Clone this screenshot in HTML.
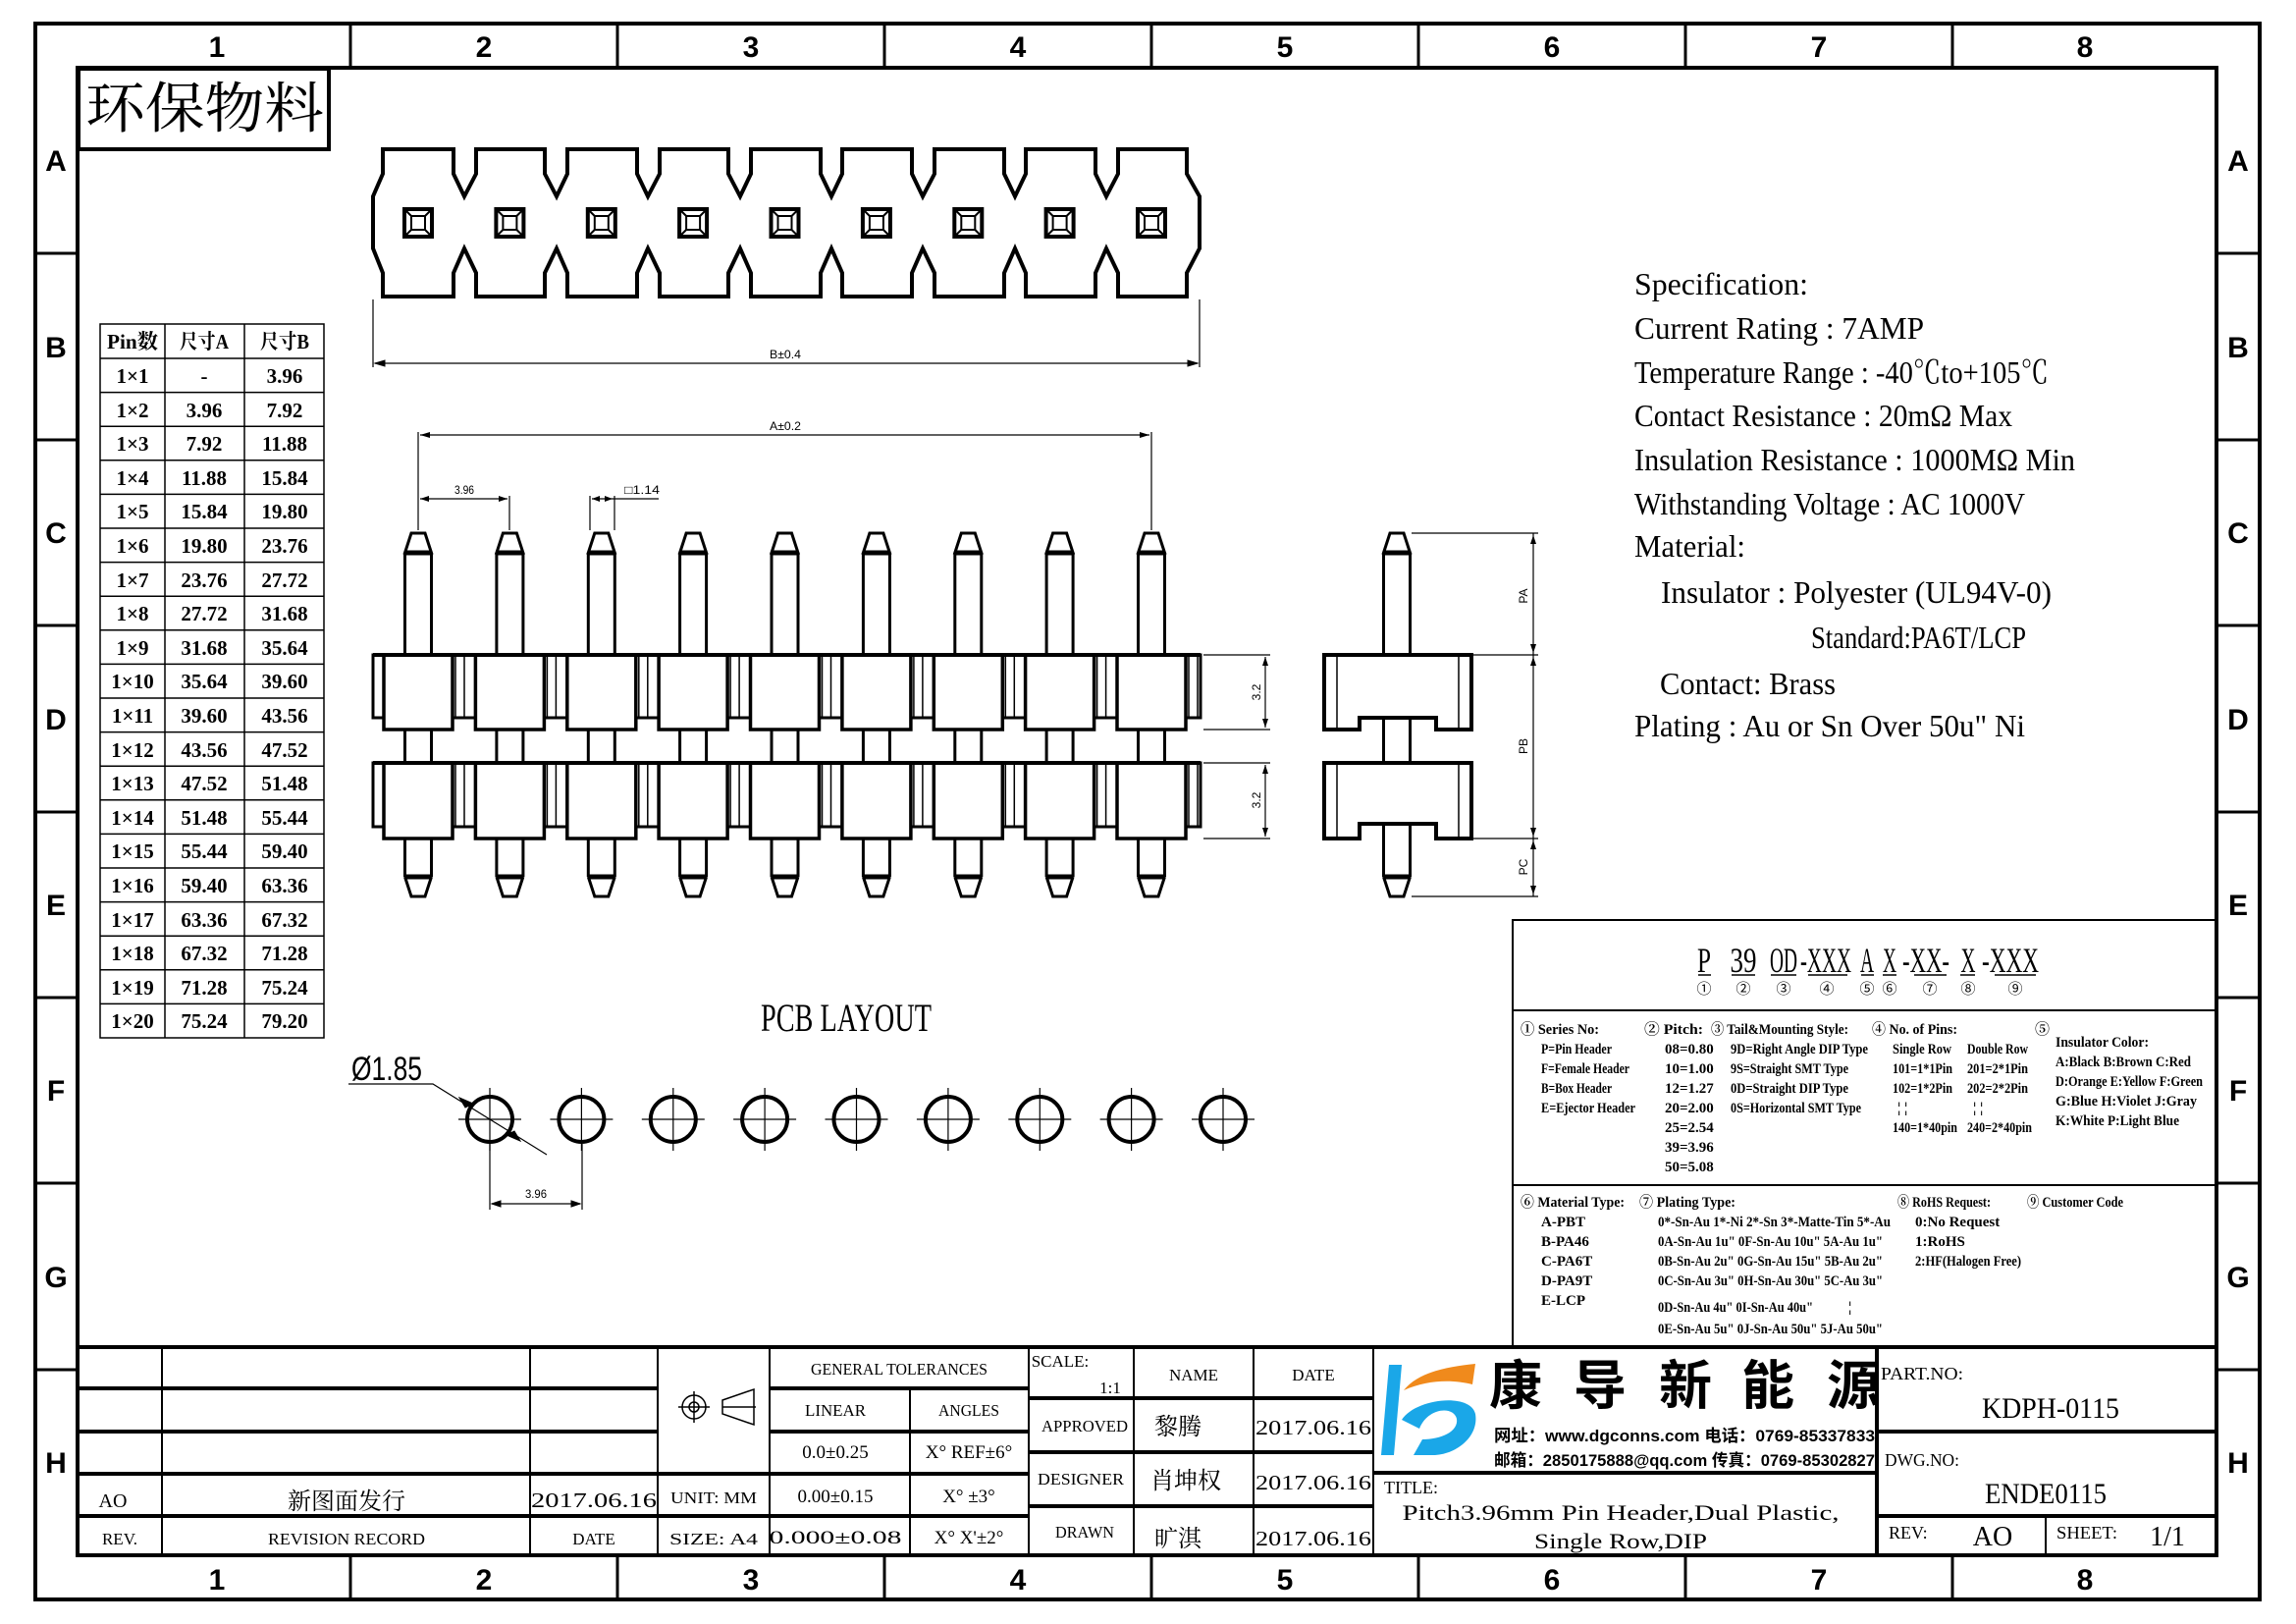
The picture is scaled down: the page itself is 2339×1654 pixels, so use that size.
<!DOCTYPE html>
<html><head><meta charset="utf-8"><style>
html,body{margin:0;padding:0;background:#fff}
svg{display:block}
text{font-family:"Liberation Sans","Noto Sans CJK SC",sans-serif;fill:#000}
.s text, text.s{font-family:"Liberation Serif","Noto Serif CJK SC",serif}
</style></head><body>
<svg width="2339" height="1654" viewBox="0 0 2339 1654" xmlns="http://www.w3.org/2000/svg">
<rect width="2339" height="1654" fill="#fff"/>
<g fill="none" stroke="#000">
<rect x="36" y="24" width="2266" height="1605" stroke-width="4"/>
<rect x="79" y="69" width="2179" height="1515" stroke-width="4"/>
<g stroke-width="3">
<path d="M357 24V69M629 24V69M901 24V69M1173 24V69M1445 24V69M1717 24V69M1989 24V69"/>
<path d="M357 1584V1629M629 1584V1629M901 1584V1629M1173 1584V1629M1445 1584V1629M1717 1584V1629M1989 1584V1629"/>
<path d="M36 258H79M36 448H79M36 637H79M36 827H79M36 1016H79M36 1205H79M36 1395H79"/>
<path d="M2258 258H2302M2258 448H2302M2258 637H2302M2258 827H2302M2258 1016H2302M2258 1205H2302M2258 1395H2302"/>
</g>
</g>
<g font-size="30" font-weight="bold" text-anchor="middle">
<text x="221" y="58">1</text><text x="493" y="58">2</text><text x="765" y="58">3</text><text x="1037" y="58">4</text><text x="1309" y="58">5</text><text x="1581" y="58">6</text><text x="1853" y="58">7</text><text x="2124" y="58">8</text>
<text x="221" y="1619">1</text><text x="493" y="1619">2</text><text x="765" y="1619">3</text><text x="1037" y="1619">4</text><text x="1309" y="1619">5</text><text x="1581" y="1619">6</text><text x="1853" y="1619">7</text><text x="2124" y="1619">8</text>
<text x="57" y="174">A</text><text x="57" y="364">B</text><text x="57" y="553">C</text><text x="57" y="743">D</text><text x="57" y="932">E</text><text x="57" y="1121">F</text><text x="57" y="1311">G</text><text x="57" y="1500">H</text>
<text x="2280" y="174">A</text><text x="2280" y="364">B</text><text x="2280" y="553">C</text><text x="2280" y="743">D</text><text x="2280" y="932">E</text><text x="2280" y="1121">F</text><text x="2280" y="1311">G</text><text x="2280" y="1500">H</text>
</g>
<rect x="80" y="70" width="255" height="82" fill="none" stroke="#000" stroke-width="4"/>
<text x="87" y="130" font-size="56" textLength="243" lengthAdjust="spacingAndGlyphs" class="s">环保物料</text>

<g fill="none" stroke="#000" stroke-width="4">
<path d="M390 152V177L380 200V253L390 278V302H462V278L473 253L485 278V302H555V278L567 253L578 278V302H649V278L660 253L672 278V302H742V278L754 253L765 278V302H836V278L847 253L858 278V302H929V278L940 253L952 278V302H1023V278L1034 253L1045 278V302H1116V278L1127 253L1139 278V302H1209V278L1222 253V200L1209 177V152H1139V177L1127 200L1116 177V152H1045V177L1034 200L1023 177V152H952V177L940 200L929 177V152H858V177L847 200L836 177V152H765V177L754 200L742 177V152H672V177L660 200L649 177V152H578V177L567 200L555 177V152H485V177L473 200L462 177V152Z"/>
</g>
<g fill="none" stroke="#000">
<g id="sq"><rect x="412" y="213" width="28" height="28" stroke-width="4"/><rect x="419" y="220" width="14" height="14" stroke-width="2"/><path d="M412 213L419 220M440 213L433 220M412 241L419 234M440 241L433 234" stroke-width="2"/></g>
<use href="#sq" x="93.4"/><use href="#sq" x="186.8"/><use href="#sq" x="280.1"/><use href="#sq" x="373.5"/><use href="#sq" x="466.9"/><use href="#sq" x="560.3"/><use href="#sq" x="653.6"/><use href="#sq" x="747"/>
<path d="M380 305V374M1222 305V374M382 370H1220" stroke-width="1.2"/>
<path d="M382 370l10 -3v6zM1220 370l-10 -3v6z" fill="#000"/>
</g>
<text x="800" y="365" font-size="12" text-anchor="middle" textLength="32" lengthAdjust="spacingAndGlyphs">B±0.4</text>

<g fill="none" stroke="#000" stroke-width="1.5">
<rect x="102" y="330" width="228" height="727"/>
<path d="M168 330V1057M249 330V1057"/>
<path d="M102 365H330M102 399.6H330M102 434.2H330M102 468.8H330M102 503.4H330M102 538H330M102 572.6H330M102 607.2H330M102 641.8H330M102 676.4H330M102 711H330M102 745.6H330M102 780.2H330M102 814.8H330M102 849.4H330M102 884H330M102 918.6H330M102 953.2H330M102 987.8H330M102 1022.4H330"/>
</g>
<g font-size="21" text-anchor="middle" font-weight="bold" class="s">
<text x="135" y="355" textLength="52" lengthAdjust="spacingAndGlyphs">Pin数</text><text x="208" y="355" textLength="50" lengthAdjust="spacingAndGlyphs">尺寸A</text><text x="290" y="355" textLength="50" lengthAdjust="spacingAndGlyphs">尺寸B</text>
<text x="135" y="390">1×1</text><text x="208" y="390">-</text><text x="290" y="390">3.96</text>
<text x="135" y="425">1×2</text><text x="208" y="425">3.96</text><text x="290" y="425">7.92</text>
<text x="135" y="459">1×3</text><text x="208" y="459">7.92</text><text x="290" y="459">11.88</text>
<text x="135" y="494">1×4</text><text x="208" y="494">11.88</text><text x="290" y="494">15.84</text>
<text x="135" y="528">1×5</text><text x="208" y="528">15.84</text><text x="290" y="528">19.80</text>
<text x="135" y="563">1×6</text><text x="208" y="563">19.80</text><text x="290" y="563">23.76</text>
<text x="135" y="598">1×7</text><text x="208" y="598">23.76</text><text x="290" y="598">27.72</text>
<text x="135" y="632">1×8</text><text x="208" y="632">27.72</text><text x="290" y="632">31.68</text>
<text x="135" y="667">1×9</text><text x="208" y="667">31.68</text><text x="290" y="667">35.64</text>
<text x="135" y="701">1×10</text><text x="208" y="701">35.64</text><text x="290" y="701">39.60</text>
<text x="135" y="736">1×11</text><text x="208" y="736">39.60</text><text x="290" y="736">43.56</text>
<text x="135" y="771">1×12</text><text x="208" y="771">43.56</text><text x="290" y="771">47.52</text>
<text x="135" y="805">1×13</text><text x="208" y="805">47.52</text><text x="290" y="805">51.48</text>
<text x="135" y="840">1×14</text><text x="208" y="840">51.48</text><text x="290" y="840">55.44</text>
<text x="135" y="874">1×15</text><text x="208" y="874">55.44</text><text x="290" y="874">59.40</text>
<text x="135" y="909">1×16</text><text x="208" y="909">59.40</text><text x="290" y="909">63.36</text>
<text x="135" y="944">1×17</text><text x="208" y="944">63.36</text><text x="290" y="944">67.32</text>
<text x="135" y="978">1×18</text><text x="208" y="978">67.32</text><text x="290" y="978">71.28</text>
<text x="135" y="1013">1×19</text><text x="208" y="1013">71.28</text><text x="290" y="1013">75.24</text>
<text x="135" y="1047">1×20</text><text x="208" y="1047">75.24</text><text x="290" y="1047">79.20</text>
</g>

<g fill="none" stroke="#000">
<rect x="380" y="667" width="843" height="64" stroke-width="3"/>
<rect x="380" y="777" width="843" height="65" stroke-width="3"/>
<g id="pin">
<path d="M412.5 563L419 543H433L439.5 563Z" stroke-width="3"/>
<path d="M412.5 563V667M439.5 563V667M412.5 743V777M439.5 743V777M412.5 854V893M439.5 854V893" stroke-width="3"/>
<path d="M412.5 563H439.5M412.5 893H439.5" stroke-width="5"/>
<path d="M412.5 893L419 913H433L439.5 893" stroke-width="3"/>
<rect x="391" y="667" width="70" height="76" fill="#fff" stroke-width="3.5"/>
<rect x="391" y="777" width="70" height="77" fill="#fff" stroke-width="3.5"/>
<path d="M464 667V731M473 667V731M464 777V842M473 777V842" stroke-width="1.5"/>
</g>
<use href="#pin" x="93.4"/><use href="#pin" x="186.8"/><use href="#pin" x="280.1"/><use href="#pin" x="373.5"/><use href="#pin" x="466.9"/><use href="#pin" x="560.3"/><use href="#pin" x="653.6"/><use href="#pin" x="747"/>
<path d="M380 667H1223M380 777H1223" stroke-width="4"/>
<g stroke-width="1.2">
<path d="M426 440V540M1173 440V540M428 443H1171"/>
<path d="M519 505V540M428 508H517M601 505V540M626 505V540M603 508H671"/>
<path d="M1226 667H1294M1226 743H1294M1226 777H1294M1226 854H1294M1289 669V741M1289 779V852"/>
</g>
<path d="M428 443l10-3v6zM1171 443l-10-3v6zM428 508l9-3v6zM517 508l-9-3v6zM603 508l8-3v6zM624 508l-8-3v6zM1289 669l-3 9h6zM1289 741l-3-9h6zM1289 779l-3 9h6zM1289 852l-3-9h6z" fill="#000" stroke="none"/>
</g>
<text x="800" y="438" font-size="12" text-anchor="middle" textLength="32" lengthAdjust="spacingAndGlyphs">A±0.2</text>
<text x="473" y="503" font-size="12" text-anchor="middle" textLength="20" lengthAdjust="spacingAndGlyphs">3.96</text>
<text x="636" y="503" font-size="12" textLength="36" lengthAdjust="spacingAndGlyphs">□1.14</text>
<text font-size="12" text-anchor="middle" transform="translate(1284 705) rotate(-90)">3.2</text>
<text font-size="12" text-anchor="middle" transform="translate(1284 815) rotate(-90)">3.2</text>

<g fill="none" stroke="#000">
<path d="M1409.5 563L1416 543H1430L1436.5 563Z" stroke-width="3"/>
<path d="M1409.5 563V667M1436.5 563V667M1409.5 731V777M1436.5 731V777M1409.5 839V893M1436.5 839V893" stroke-width="3"/>
<path d="M1409.5 563H1436.5M1409.5 893H1436.5" stroke-width="5"/>
<path d="M1409.5 893L1416 913H1430L1436.5 893" stroke-width="3"/>
<path d="M1349 667H1499V743H1463V731H1385V743H1349Z" stroke-width="4"/>
<path d="M1349 777H1499V854H1463V839H1385V854H1349Z" stroke-width="4"/>
<path d="M1362 667V743M1486 667V743M1362 777V854M1486 777V854" stroke-width="1.5"/>
<path d="M1438 543H1567M1500 667H1567M1500 854H1567M1438 913H1567M1562 543V913" stroke-width="1.2"/>
<path d="M1562 545l-3 9h6zM1562 665l-3-9h6zM1562 669l-3 9h6zM1562 852l-3-9h6zM1562 856l-3 9h6zM1562 911l-3-9h6z" fill="#000" stroke="none"/>
</g>
<text font-size="12" text-anchor="middle" transform="translate(1556 607) rotate(-90)">PA</text>
<text font-size="12" text-anchor="middle" transform="translate(1556 760) rotate(-90)">PB</text>
<text font-size="12" text-anchor="middle" transform="translate(1556 883) rotate(-90)">PC</text>

<text x="862" y="1050" font-size="40" text-anchor="middle" textLength="174" lengthAdjust="spacingAndGlyphs" class="s">PCB LAYOUT</text>
<text x="358" y="1100" font-size="34" textLength="72" lengthAdjust="spacingAndGlyphs">Ø1.85</text>
<g fill="none" stroke="#000">
<g id="hole"><circle cx="499" cy="1140" r="23" stroke-width="4"/><path d="M467 1140H531M499 1108V1172" stroke-width="1.2"/></g>
<use href="#hole" x="93.4"/><use href="#hole" x="186.8"/><use href="#hole" x="280.1"/><use href="#hole" x="373.5"/><use href="#hole" x="466.9"/><use href="#hole" x="560.3"/><use href="#hole" x="653.6"/><use href="#hole" x="747"/>
<path d="M355 1104H441L557 1176M499 1165V1232M593 1165V1232M501 1226H591" stroke-width="1.2"/>
<path d="M482 1124l-14-6 6 10zM516 1156l14 6-6-10zM501 1226l9-3v6zM591 1226l-9-3v6z" fill="#000" stroke="#000" stroke-width="1"/>
</g>
<text x="546" y="1220" font-size="12" text-anchor="middle" textLength="22" lengthAdjust="spacingAndGlyphs">3.96</text>

<g font-size="32" class="s">
<text x="1665" y="300" textLength="177" lengthAdjust="spacingAndGlyphs">Specification:</text>
<text x="1665" y="345" textLength="295" lengthAdjust="spacingAndGlyphs">Current Rating : 7AMP</text>
<text x="1665" y="390" textLength="422" lengthAdjust="spacingAndGlyphs">Temperature Range : -40℃to+105℃</text>
<text x="1665" y="434" textLength="385" lengthAdjust="spacingAndGlyphs">Contact Resistance : 20mΩ Max</text>
<text x="1665" y="479" textLength="449" lengthAdjust="spacingAndGlyphs">Insulation Resistance : 1000MΩ Min</text>
<text x="1665" y="524" textLength="398" lengthAdjust="spacingAndGlyphs">Withstanding Voltage : AC 1000V</text>
<text x="1665" y="567" textLength="113" lengthAdjust="spacingAndGlyphs">Material:</text>
<text x="1692" y="614" textLength="398" lengthAdjust="spacingAndGlyphs">Insulator : Polyester (UL94V-0)</text>
<text x="1845" y="660" textLength="219" lengthAdjust="spacingAndGlyphs">Standard:PA6T/LCP</text>
<text x="1691" y="707" textLength="179" lengthAdjust="spacingAndGlyphs">Contact: Brass</text>
<text x="1665" y="750" textLength="398" lengthAdjust="spacingAndGlyphs">Plating : Au or Sn Over 50u" Ni</text>
</g>

<g fill="none" stroke="#000">
<path d="M1541 1372V937H2258M1541 1029H2258M1541 1207H2258" stroke-width="2"/>
<path d="M1730 993h13M1764 993h24M1804 993h26M1842 993h40M1896 993h13M1918 993h14M1950 993h33M1997 993h15M2032 993h42" stroke-width="1.5"/>
</g>
<g font-size="36" text-anchor="middle" class="s">
<text x="1736" y="990" textLength="14" lengthAdjust="spacingAndGlyphs">P</text>
<text x="1776" y="990" textLength="27" lengthAdjust="spacingAndGlyphs">39</text>
<text x="1817" y="990" textLength="28" lengthAdjust="spacingAndGlyphs">OD</text>
<text x="1860" y="990" textLength="52" lengthAdjust="spacingAndGlyphs">-XXX</text>
<text x="1902" y="990" textLength="14" lengthAdjust="spacingAndGlyphs">A</text>
<text x="1925" y="990" textLength="14" lengthAdjust="spacingAndGlyphs">X</text>
<text x="1962" y="990" textLength="48" lengthAdjust="spacingAndGlyphs">-XX-</text>
<text x="2005" y="990" textLength="15" lengthAdjust="spacingAndGlyphs">X</text>
<text x="2048" y="990" textLength="58" lengthAdjust="spacingAndGlyphs">-XXX</text>
</g>
<g font-size="15" text-anchor="middle">
<text x="1736" y="1012">①</text><text x="1776" y="1012">②</text><text x="1817" y="1012">③</text><text x="1861" y="1012">④</text><text x="1902" y="1012">⑤</text><text x="1925" y="1012">⑥</text><text x="1966" y="1012">⑦</text><text x="2005" y="1012">⑧</text><text x="2053" y="1012">⑨</text>
</g>
<g font-size="15" font-weight="bold" class="s">
<text x="1549" y="1053" textLength="80" lengthAdjust="spacingAndGlyphs">① Series No:</text>
<text x="1570" y="1073" textLength="72" lengthAdjust="spacingAndGlyphs">P=Pin Header</text>
<text x="1570" y="1093" textLength="90" lengthAdjust="spacingAndGlyphs">F=Female Header</text>
<text x="1570" y="1113" textLength="72" lengthAdjust="spacingAndGlyphs">B=Box Header</text>
<text x="1570" y="1133" textLength="96" lengthAdjust="spacingAndGlyphs">E=Ejector Header</text>
<text x="1675" y="1053" textLength="60" lengthAdjust="spacingAndGlyphs">② Pitch:</text>
<text x="1696" y="1073">08=0.80</text><text x="1696" y="1093">10=1.00</text><text x="1696" y="1113">12=1.27</text><text x="1696" y="1133">20=2.00</text><text x="1696" y="1153">25=2.54</text><text x="1696" y="1173">39=3.96</text><text x="1696" y="1193">50=5.08</text>
<text x="1743" y="1053" textLength="140" lengthAdjust="spacingAndGlyphs">③ Tail&amp;Mounting Style:</text>
<text x="1763" y="1073" textLength="140" lengthAdjust="spacingAndGlyphs">9D=Right Angle DIP Type</text>
<text x="1763" y="1093" textLength="120" lengthAdjust="spacingAndGlyphs">9S=Straight SMT Type</text>
<text x="1763" y="1113" textLength="120" lengthAdjust="spacingAndGlyphs">0D=Straight DIP Type</text>
<text x="1763" y="1133" textLength="133" lengthAdjust="spacingAndGlyphs">0S=Horizontal SMT Type</text>
<text x="1907" y="1053" textLength="87" lengthAdjust="spacingAndGlyphs">④ No. of Pins:</text>
<text x="1928" y="1073" textLength="60" lengthAdjust="spacingAndGlyphs">Single Row</text>
<text x="2004" y="1073" textLength="62" lengthAdjust="spacingAndGlyphs">Double Row</text>
<text x="1928" y="1093" textLength="61" lengthAdjust="spacingAndGlyphs">101=1*1Pin</text>
<text x="2004" y="1093" textLength="62" lengthAdjust="spacingAndGlyphs">201=2*1Pin</text>
<text x="1928" y="1113" textLength="61" lengthAdjust="spacingAndGlyphs">102=1*2Pin</text>
<text x="2004" y="1113" textLength="62" lengthAdjust="spacingAndGlyphs">202=2*2Pin</text>
<text x="1933" y="1133">¦  ¦</text><text x="2010" y="1133">¦  ¦</text>
<text x="1928" y="1153" textLength="66" lengthAdjust="spacingAndGlyphs">140=1*40pin</text>
<text x="2004" y="1153" textLength="66" lengthAdjust="spacingAndGlyphs">240=2*40pin</text>
<text x="2073" y="1053">⑤</text>
<text x="2094" y="1066" textLength="95" lengthAdjust="spacingAndGlyphs">Insulator Color:</text>
<text x="2094" y="1086" textLength="138" lengthAdjust="spacingAndGlyphs">A:Black  B:Brown  C:Red</text>
<text x="2094" y="1106" textLength="150" lengthAdjust="spacingAndGlyphs">D:Orange E:Yellow F:Green</text>
<text x="2094" y="1126" textLength="144" lengthAdjust="spacingAndGlyphs">G:Blue   H:Violet J:Gray</text>
<text x="2094" y="1146" textLength="126" lengthAdjust="spacingAndGlyphs">K:White  P:Light Blue</text>

<text x="1549" y="1229" textLength="106" lengthAdjust="spacingAndGlyphs">⑥ Material Type:</text>
<text x="1570" y="1249">A-PBT</text><text x="1570" y="1269">B-PA46</text><text x="1570" y="1289">C-PA6T</text><text x="1570" y="1309">D-PA9T</text><text x="1570" y="1329">E-LCP</text>
<text x="1670" y="1229" textLength="98" lengthAdjust="spacingAndGlyphs">⑦ Plating Type:</text>
<text x="1689" y="1249" textLength="237" lengthAdjust="spacingAndGlyphs">0*-Sn-Au 1*-Ni 2*-Sn 3*-Matte-Tin 5*-Au</text>
<text x="1689" y="1269" textLength="229" lengthAdjust="spacingAndGlyphs">0A-Sn-Au 1u" 0F-Sn-Au 10u"  5A-Au 1u"</text>
<text x="1689" y="1289" textLength="229" lengthAdjust="spacingAndGlyphs">0B-Sn-Au 2u" 0G-Sn-Au 15u"  5B-Au 2u"</text>
<text x="1689" y="1309" textLength="229" lengthAdjust="spacingAndGlyphs">0C-Sn-Au 3u" 0H-Sn-Au 30u"  5C-Au 3u"</text>
<text x="1689" y="1336" textLength="158" lengthAdjust="spacingAndGlyphs">0D-Sn-Au 4u" 0I-Sn-Au 40u"</text>
<text x="1883" y="1336">¦</text>
<text x="1689" y="1358" textLength="229" lengthAdjust="spacingAndGlyphs">0E-Sn-Au 5u" 0J-Sn-Au 50u"  5J-Au 50u"</text>
<text x="1933" y="1229" textLength="95" lengthAdjust="spacingAndGlyphs">⑧ RoHS Request:</text>
<text x="1951" y="1249">0:No Request</text><text x="1951" y="1269">1:RoHS</text>
<text x="1951" y="1289" textLength="108" lengthAdjust="spacingAndGlyphs">2:HF(Halogen Free)</text>
<text x="2065" y="1229" textLength="98" lengthAdjust="spacingAndGlyphs">⑨ Customer Code</text>
</g>

<g fill="none" stroke="#000">
<path d="M79 1372H2258" stroke-width="4"/>
<path d="M79 1414H670M79 1458H670M79 1501H1048M79 1544H1048M784 1414H1048M784 1458H1048" stroke-width="4"/>
<path d="M165 1372V1584M540 1372V1584M670 1372V1584M784 1372V1584M927 1414V1584M1048 1372V1584M1155 1372V1584M1277 1372V1584M1399 1372V1584" stroke-width="2"/>
<path d="M1048 1424H1399M1048 1479H1399M1048 1534H1399" stroke-width="4"/>
<path d="M1399 1500H1912M1912 1372V1584M1912 1458H2258M1912 1544H2258" stroke-width="4"/>
<path d="M2084 1544V1584" stroke-width="2"/>
<circle cx="707" cy="1433" r="12" stroke-width="1.5"/><circle cx="707" cy="1433" r="5" stroke-width="1.5"/>
<path d="M691 1433H723M707 1417V1449M736 1426L768 1415V1451L736 1440ZM736 1433H770" stroke-width="1.5"/>
</g>
<g font-size="17" text-anchor="middle" class="s">
<text x="916" y="1400" textLength="180" lengthAdjust="spacingAndGlyphs">GENERAL TOLERANCES</text>
<text x="851" y="1442" textLength="62" lengthAdjust="spacingAndGlyphs">LINEAR</text>
<text x="987" y="1442" textLength="62" lengthAdjust="spacingAndGlyphs">ANGLES</text>
<text x="851" y="1485" font-size="19">0.0±0.25</text>
<text x="987" y="1485" font-size="19">X° REF±6°</text>
<text x="851" y="1530" font-size="19">0.00±0.15</text>
<text x="987" y="1530" font-size="19">X° ±3°</text>
<text x="851" y="1572" font-size="19" textLength="135" lengthAdjust="spacingAndGlyphs">0.000±0.08</text>
<text x="987" y="1572" font-size="19">X° X'±2°</text>
<text x="727" y="1531" textLength="88" lengthAdjust="spacingAndGlyphs">UNIT: MM</text>
<text x="727" y="1573" textLength="90" lengthAdjust="spacingAndGlyphs">SIZE: A4</text>
<text x="115" y="1535" font-size="20">AO</text>
<text x="353" y="1537" font-size="24">新图面发行</text>
<text x="605" y="1535" font-size="21" textLength="128" lengthAdjust="spacingAndGlyphs">2017.06.16</text>
<text x="122" y="1573">REV.</text>
<text x="353" y="1573" textLength="160" lengthAdjust="spacingAndGlyphs">REVISION RECORD</text>
<text x="605" y="1573">DATE</text>
<text x="1080" y="1392">SCALE:</text>
<text x="1131" y="1419">1:1</text>
<text x="1216" y="1406">NAME</text><text x="1338" y="1406">DATE</text>
<text x="1105" y="1458" textLength="88" lengthAdjust="spacingAndGlyphs">APPROVED</text>
<text x="1200" y="1461" font-size="24">黎腾</text>
<text x="1338" y="1461" font-size="21" textLength="118" lengthAdjust="spacingAndGlyphs">2017.06.16</text>
<text x="1101" y="1512" textLength="88" lengthAdjust="spacingAndGlyphs">DESIGNER</text>
<text x="1208" y="1516" font-size="24">肖坤权</text>
<text x="1338" y="1517" font-size="21" textLength="118" lengthAdjust="spacingAndGlyphs">2017.06.16</text>
<text x="1105" y="1566" textLength="60" lengthAdjust="spacingAndGlyphs">DRAWN</text>
<text x="1200" y="1575" font-size="24">旷淇</text>
<text x="1338" y="1574" font-size="21" textLength="118" lengthAdjust="spacingAndGlyphs">2017.06.16</text>
</g>
<path d="M1415 1390H1428L1420 1482H1407Z" fill="#1aa7e8"/>
<path d="M1428 1446C1442 1424 1498 1418 1503 1440C1507 1464 1482 1482 1460 1482H1440L1449 1466C1468 1466 1486 1458 1484 1445C1481 1432 1455 1433 1446 1455Z" fill="#1aa7e8"/>
<path d="M1430 1416C1445 1397 1475 1392 1503 1389L1500 1410C1480 1405 1455 1405 1430 1416Z" fill="#f08a1c"/>
<g font-size="54" font-weight="bold" text-anchor="middle">
<text x="1544" y="1430">康</text><text x="1630" y="1430">导</text><text x="1717" y="1430">新</text><text x="1801" y="1430">能</text><text x="1888" y="1430">源</text>
</g>
<text x="1522" y="1468" font-size="17" font-weight="bold" textLength="388" lengthAdjust="spacingAndGlyphs">网址：www.dgconns.com   电话：0769-85337833</text>
<text x="1522" y="1493" font-size="17" font-weight="bold" textLength="388" lengthAdjust="spacingAndGlyphs">邮箱：2850175888@qq.com 传真：0769-85302827</text>
<g class="s">
<text x="1410" y="1521" font-size="18">TITLE:</text>
<text x="1651" y="1548" font-size="22" text-anchor="middle" textLength="445" lengthAdjust="spacingAndGlyphs">Pitch3.96mm Pin Header,Dual Plastic,</text>
<text x="1651" y="1577" font-size="22" text-anchor="middle" textLength="176" lengthAdjust="spacingAndGlyphs">Single Row,DIP</text>
<text x="1916" y="1405" font-size="18" textLength="84" lengthAdjust="spacingAndGlyphs">PART.NO:</text>
<text x="2089" y="1444" font-size="30" text-anchor="middle" textLength="140" lengthAdjust="spacingAndGlyphs">KDPH-0115</text>
<text x="1920" y="1493" font-size="18" textLength="76" lengthAdjust="spacingAndGlyphs">DWG.NO:</text>
<text x="2084" y="1531" font-size="30" text-anchor="middle" textLength="124" lengthAdjust="spacingAndGlyphs">ENDE0115</text>
<text x="1924" y="1567" font-size="18">REV:</text>
<text x="2030" y="1574" font-size="28" text-anchor="middle">AO</text>
<text x="2095" y="1567" font-size="18" textLength="62" lengthAdjust="spacingAndGlyphs">SHEET:</text>
<text x="2208" y="1574" font-size="28" text-anchor="middle">1/1</text>
</g>
</svg>
</body></html>
